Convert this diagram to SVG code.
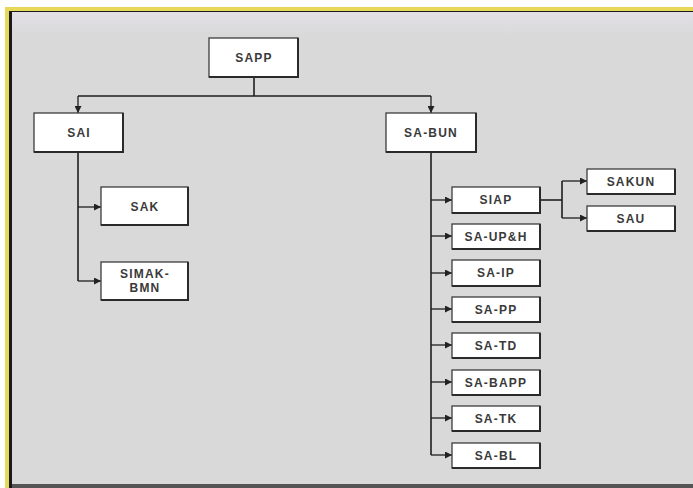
<svg xmlns="http://www.w3.org/2000/svg" width="693" height="488" viewBox="0 0 693 488">
<defs>
<marker id="ah" viewBox="0 0 10 10" refX="10" refY="5" markerWidth="7" markerHeight="7" markerUnits="userSpaceOnUse" orient="auto">
<path d="M0,0 L10,5 L0,10 z" fill="#222"/>
</marker>
<linearGradient id="topband" x1="0" y1="0" x2="0" y2="1">
<stop offset="0" stop-color="#e2dfe6"/>
<stop offset="1" stop-color="#d9d9d9"/>
</linearGradient>
</defs>
<style>
.box{fill:#ffffff;stroke:#3c3c3c;stroke-width:1.3}
.sh{fill:none;stroke:#2a2a2a;stroke-width:2}
.lbl{font-family:"Liberation Sans",Arial,sans-serif;font-weight:bold;font-size:12px;fill:#3a3a3a;text-anchor:middle;letter-spacing:1.2px}
.ln{fill:none;stroke:#1e1e1e;stroke-width:1.6}
.lna{fill:none;stroke:#1e1e1e;stroke-width:1.3;marker-end:url(#ah)}
</style>
<rect x="0" y="0" width="693" height="488" fill="#ffffff"/>
<rect x="5" y="7" width="688" height="481" fill="#e8d85a"/>
<rect x="9" y="11" width="684" height="477" fill="#1a1a1a"/>
<rect x="12" y="12" width="681" height="473" fill="#d9d9d9"/>
<rect x="12" y="12" width="681" height="24" fill="url(#topband)"/>
<rect x="12" y="484" width="681" height="4" fill="#555"/>

<g id="connectors">
<path class="ln" d="M254,77 V96"/>
<path class="ln" d="M78,96 H431"/>
<path class="lna" d="M78,96 V113"/>
<path class="lna" d="M431,96 V113"/>
<path class="ln" d="M78,152 V281"/>
<path class="lna" d="M78,207 H101"/>
<path class="lna" d="M78,281 H101"/>
<path class="ln" d="M431,152 V455"/>
<path class="lna" d="M431,200 H452"/>
<path class="lna" d="M431,236 H452"/>
<path class="lna" d="M431,273 H452"/>
<path class="lna" d="M431,309 H452"/>
<path class="lna" d="M431,345 H452"/>
<path class="lna" d="M431,382 H452"/>
<path class="lna" d="M431,418 H452"/>
<path class="lna" d="M431,455 H452"/>
<path class="ln" d="M540,200 H562"/>
<path class="ln" d="M562,181 V218"/>
<path class="lna" d="M562,181 H587"/>
<path class="lna" d="M562,218 H587"/>
</g>

<g id="SAPP"><rect class="box" x="209" y="38" width="89" height="39"/><path class="sh" d="M209,77 H298 V38"/><text class="lbl" x="254" y="62">SAPP</text></g>
<g id="SAI"><rect class="box" x="34" y="113" width="89" height="39"/><path class="sh" d="M34,152 H123 V113"/><text class="lbl" x="79" y="137">SAI</text></g>
<g id="SA-BUN"><rect class="box" x="386" y="113" width="90" height="39"/><path class="sh" d="M386,152 H476 V113"/><text class="lbl" x="431" y="137">SA-BUN</text></g>
<g id="SAK"><rect class="box" x="101" y="187" width="87" height="38"/><path class="sh" d="M101,225 H188 V187"/><text class="lbl" x="145" y="211">SAK</text></g>
<g id="SIMAK-BMN"><rect class="box" x="101" y="262" width="87" height="38"/><path class="sh" d="M101,300 H188 V262"/><text class="lbl" x="145" y="278">SIMAK-</text><text class="lbl" x="145" y="292">BMN</text></g>
<g id="SIAP"><rect class="box" x="452" y="187" width="88" height="26"/><path class="sh" d="M452,213 H540 V187"/><text class="lbl" x="496" y="204">SIAP</text></g>
<g id="SA-UPH"><rect class="box" x="452" y="224" width="88" height="25"/><path class="sh" d="M452,249 H540 V224"/><text class="lbl" x="496" y="241">SA-UP&amp;H</text></g>
<g id="SA-IP"><rect class="box" x="452" y="260" width="88" height="26"/><path class="sh" d="M452,286 H540 V260"/><text class="lbl" x="496" y="277">SA-IP</text></g>
<g id="SA-PP"><rect class="box" x="452" y="297" width="88" height="25"/><path class="sh" d="M452,322 H540 V297"/><text class="lbl" x="496" y="314">SA-PP</text></g>
<g id="SA-TD"><rect class="box" x="452" y="333" width="88" height="25"/><path class="sh" d="M452,358 H540 V333"/><text class="lbl" x="496" y="350">SA-TD</text></g>
<g id="SA-BAPP"><rect class="box" x="452" y="370" width="88" height="25"/><path class="sh" d="M452,395 H540 V370"/><text class="lbl" x="496" y="387">SA-BAPP</text></g>
<g id="SA-TK"><rect class="box" x="452" y="406" width="88" height="25"/><path class="sh" d="M452,431 H540 V406"/><text class="lbl" x="496" y="423">SA-TK</text></g>
<g id="SA-BL"><rect class="box" x="452" y="443" width="88" height="25"/><path class="sh" d="M452,468 H540 V443"/><text class="lbl" x="496" y="460">SA-BL</text></g>
<g id="SAKUN"><rect class="box" x="587" y="169" width="88" height="25"/><path class="sh" d="M587,194 H675 V169"/><text class="lbl" x="631" y="186">SAKUN</text></g>
<g id="SAU"><rect class="box" x="587" y="206" width="88" height="25"/><path class="sh" d="M587,231 H675 V206"/><text class="lbl" x="631" y="223">SAU</text></g>
</svg>
